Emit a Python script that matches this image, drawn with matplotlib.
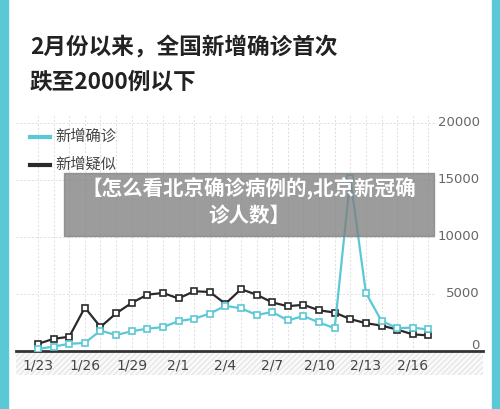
import matplotlib
matplotlib.use("Agg")
import matplotlib.pyplot as plt
from matplotlib.patches import Rectangle
import numpy as np

plt.rcParams['font.family'] = ['Noto Sans CJK SC', 'DejaVu Sans']

dates = ["1/23","1/24","1/25","1/26","1/27","1/28","1/29","1/30","1/31","2/1","2/2","2/3","2/4",
         "2/5","2/6","2/7","2/8","2/9","2/10","2/11","2/12","2/13","2/14","2/15","2/16","2/17"]
confirmed = [180,390,630,710,1790,1400,1730,1960,2090,2620,2830,3280,3960,
             3750,3160,3420,2680,3070,2500,2000,15152,5090,2641,2009,2048,1886]
suspected = [625,1070,1250,3810,2110,3300,4220,4940,5090,4610,5240,5180,4140,
             5420,4940,4260,3930,4050,3570,3370,2800,2440,2230,1880,1460,1370]
tick_labels = ["1/23","1/26","1/29","2/1","2/4","2/7","2/10","2/13","2/16"]
yticks = [0,5000,10000,15000,20000]

W, H = 500, 409
fig = plt.figure(figsize=(5, 4.09), dpi=100)
fig.patch.set_facecolor("white")
cyan = "#5BC8D6"
fig.add_artist(Rectangle((0,0),8/W,1,transform=fig.transFigure,color=cyan,zorder=0))
fig.add_artist(Rectangle((1-8/W,0),8/W,1,transform=fig.transFigure,color=cyan,zorder=0))

fig.text(30/W, 1-48/H, "2月份以来，全国新增确诊首次", fontsize=16.3, fontweight="bold", va="center", color="#222")
fig.text(30/W, 1-82/H, "跌至2000例以下", fontsize=16.3, fontweight="bold", va="center", color="#222")

ax = fig.add_axes([16/W, 1-351/H, (483-16)/W, (351-115)/H])
x = np.arange(len(dates))
ax.set_xlim(-1.41, 28.5)
ax.set_ylim(0, 20700)
for s in ["top","right","left"]:
    ax.spines[s].set_visible(False)
ax.spines["bottom"].set_linewidth(2)
ax.spines["bottom"].set_color("#333")
ax.set_yticks([])
ax.set_xticks([])
for i in x:
    ax.axvline(i, color="#ddd", ls=(0,(2,2)), lw=0.7, zorder=0)
for v in yticks[1:]:
    ax.plot([-1.41, 25.5], [v, v], color="#ddd", ls=(0,(2,2)), lw=0.7, zorder=0)
for v in yticks:
    ax.text(28.3, v + (500 if v == 0 else 0), str(v), ha="right", va="center", fontsize=9.5, color="#666", family="DejaVu Sans")
idx = [dates.index(t) for t in tick_labels]
for i, t in zip(idx, tick_labels):
    ax.text(i, -1300, t, ha="center", va="center", fontsize=10, color="#444", family="DejaVu Sans", clip_on=False)
ax.plot(x, suspected, color="#2a2a2a", lw=1.6, marker="s", ms=4.5, mfc="white", mec="#2a2a2a", mew=1.2, zorder=3)
ax.plot(x, confirmed, color=cyan, lw=1.6, marker="s", ms=4.5, mfc="white", mec=cyan, mew=1.2, zorder=4)

fig.add_artist(Rectangle((16/W, 1-375/H), (483-16)/W, 23/H, transform=fig.transFigure,
                         facecolor="#fafafa", edgecolor="#e6e6e6", hatch="//////", lw=0, zorder=0))

fig.add_artist(plt.Line2D([30/W, 50/W], [1-137/H]*2, color=cyan, lw=3))
fig.text(55/W, 1-136/H, "新增确诊", fontsize=11, va="center", color="#444")
fig.add_artist(plt.Line2D([30/W, 50/W], [1-165/H]*2, color="#2a2a2a", lw=3))
fig.text(55/W, 1-164/H, "新增疑似", fontsize=11, va="center", color="#444")

fig.add_artist(Rectangle((64/W, 1-236/H), 370/W, 63/H, transform=fig.transFigure,
                         color="#808080", alpha=0.78, zorder=10))
fig.text(249/W, 1-189/H, "【怎么看北京确诊病例的,北京新冠确", fontsize=14.8, fontweight="bold",
         color="white", ha="center", va="center", zorder=11)
fig.text(249/W, 1-215/H, "诊人数】", fontsize=14.8, fontweight="bold",
         color="white", ha="center", va="center", zorder=11)

fig.savefig("out.png", dpi=100)
